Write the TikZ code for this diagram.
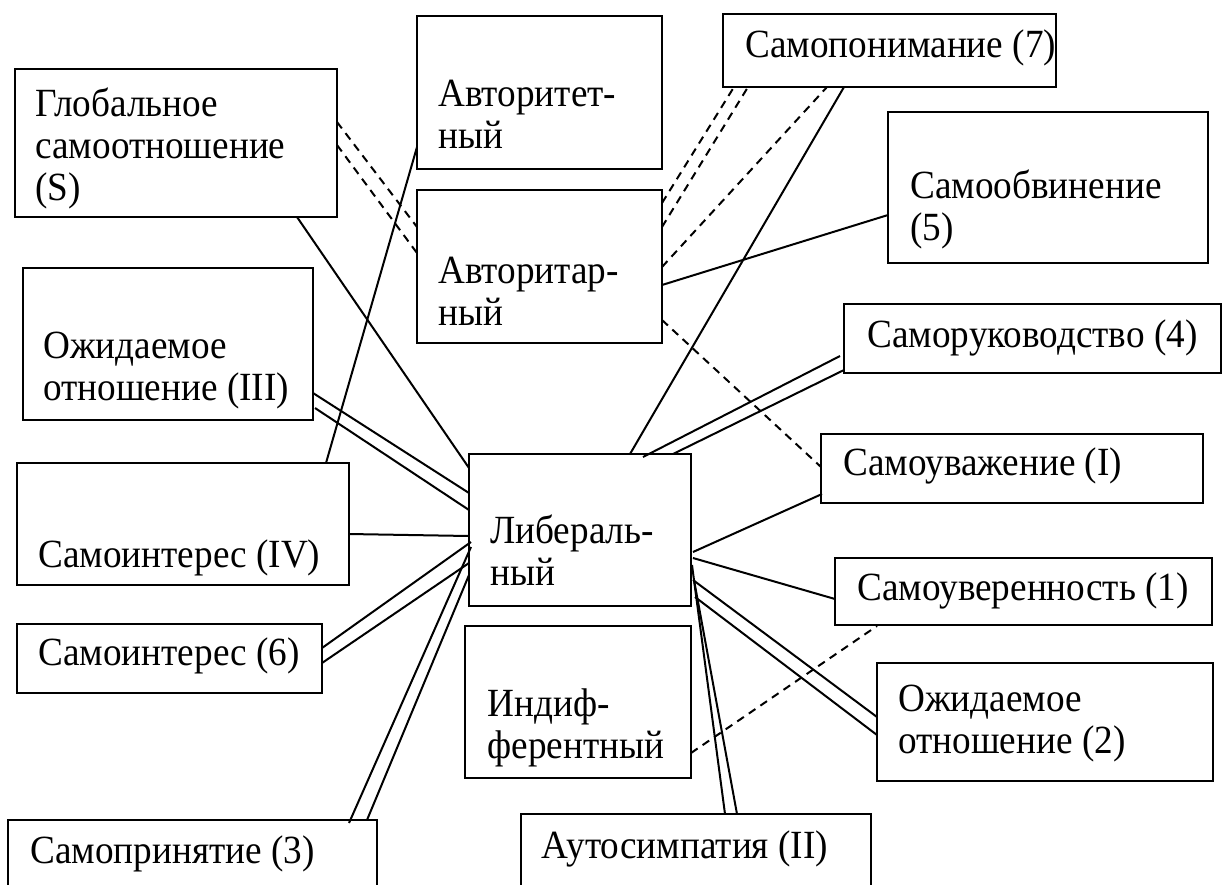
\documentclass[tikz,border=0pt]{standalone}
\usepackage{fontspec}
\setmainfont{Liberation Serif}[FakeStretch=0.93]
\usetikzlibrary{calc}
\tikzset{
    box/.style={draw, rectangle, line width=1pt, inner sep=0pt, outer sep=0pt, anchor=north west},
    txt/.style={anchor=base west, align=left, inner sep=0pt, font=\rmfamily\fontsize{20}{21}\selectfont},
    link/.style={line width=1pt},
    dlink/.style={line width=1pt, dash pattern=on 4pt off 3pt}
}
\begin{document}
\begin{tikzpicture}[x=0.5pt, y=-0.5pt]
    \useasboundingbox (0,0) rectangle (1225,884);
    \clip (0,0) rectangle (1225,884);

    % Рамки
    \node[box, minimum width=161pt, minimum height=74pt] (glob) at (15,69) {};
    \node[box, minimum width=122.5pt, minimum height=76.5pt] (avtet) at (417,16) {};
    \node[box, minimum width=122.5pt, minimum height=76.5pt] (avtar) at (417,190) {};
    \node[box, minimum width=166.5pt, minimum height=36.5pt] (ponim) at (723,14) {};
    \node[box, minimum width=160pt, minimum height=75.5pt] (obvin) at (888,112) {};
    \node[box, minimum width=188.5pt, minimum height=34.5pt] (ruk) at (844,304) {};
    \node[box, minimum width=191pt, minimum height=34.5pt] (uvazh) at (821,434) {};
    \node[box, minimum width=188.5pt, minimum height=33.5pt] (uver) at (835,558) {};
    \node[box, minimum width=168pt, minimum height=59pt] (ozh2) at (877,663) {};
    \node[box, minimum width=145pt, minimum height=76pt] (ozh3) at (23,268) {};
    \node[box, minimum width=166pt, minimum height=61pt] (int4) at (17,463) {};
    \node[box, minimum width=111pt, minimum height=76pt] (lib) at (469,454) {};
    \node[box, minimum width=113pt, minimum height=76pt] (indif) at (465,626) {};
    \node[box, minimum width=152.5pt, minimum height=34.5pt] (int6) at (17,624) {};
    \node[box, minimum width=184.5pt, minimum height=50pt] (prin) at (8,820) {};
    \node[box, minimum width=175pt, minimum height=50pt] (simp) at (521,814) {};

    % Подписи (base = последняя строка)
    \node[txt] (globT) at (35,200) {Глобальное\\самоотношение\\(S)};
    \node[txt] (avtetT) at (438,148) {Авторитет-\\ный};
    \node[txt] (avtarT) at (438,325) {Авторитар-\\ный};
    \node[txt] (ponimT) at (745,57) {Самопонимание (7)};
    \node[txt] (obvinT) at (910,240) {Самообвинение\\(5)};
    \node[txt] (rukT) at (867,347) {Саморуководство (4)};
    \node[txt] (uvazhT) at (843,475) {Самоуважение (I)};
    \node[txt] (uverT) at (857,600) {Самоуверенность (1)};
    \node[txt] (ozh2T) at (898,753) {Ожидаемое\\отношение (2)};
    \node[txt] (ozh3T) at (43,400) {Ожидаемое\\отношение (III)};
    \node[txt] (int4T) at (38,567) {Самоинтерес (IV)};
    \node[txt] (libT) at (490,585) {Либераль-\\ный};
    \node[txt] (indifT) at (487,758) {Индиф-\\ферентный};
    \node[txt] (int6T) at (38,665) {Самоинтерес (6)};
    \node[txt] (prinT) at (30,863) {Самопринятие (3)};
    \node[txt] (simpT) at (541,858) {Аутосимпатия (II)};

    % Связи слева
    \draw[link] ($(glob.south west)+(282,0)$) -- ($(lib.north west)+(0,14)$);
    \draw[dlink] ($(glob.north east)+(0,53)$) -- ($(avtar.north west)+(0,37)$);
    \draw[dlink] ($(glob.north east)+(0,76)$) -- ($(avtar.north west)+(0,63)$);
    \draw[link] ($(avtet.north west)+(0,131)$) -- ($(int4.north west)+(309,0)$);
    \draw[link] ($(ozh3.north east)+(0,125)$) -- ($(lib.north west)+(0,39)$);
    \draw[link] ($(ozh3.north east)+(2,140)$) -- ($(lib.north west)+(0,56)$);
    \draw[link] ($(int4.north east)+(0,71)$) -- ($(lib.north west)+(0,82)$);
    \draw[link] ($(int6.north east)+(0,24)$) -- ($(lib.north west)+(2,88)$);
    \draw[link] ($(int6.north east)+(0,39)$) -- ($(lib.north west)+(0,109)$);
    \draw[link] ($(prin.north west)+(341,3)$) -- ($(lib.north west)+(2,93)$);
    \draw[link] ($(prin.north west)+(359,0)$) -- ($(lib.north west)+(0,121)$);

    % Связи сверху
    \draw[dlink] ($(avtar.north east)+(0,13)$) -- ($(ponim.south west)+(11,0)$);
    \draw[dlink] ($(avtar.north east)+(0,37)$) -- ($(ponim.south west)+(25,0)$);
    \draw[dlink] ($(avtar.north east)+(0,77)$) -- ($(ponim.south west)+(104,0)$);
    \draw[link] ($(ponim.south west)+(121,0)$) -- ($(lib.north west)+(161,0)$);
    \draw[link] ($(avtar.north east)+(0,95)$) -- ($(obvin.north west)+(0,103)$);
    \draw[dlink] ($(avtar.north east)+(0,130)$) -- ($(uvazh.north west)+(0,33)$);

    % Связи справа
    \draw[link] ($(lib.north west)+(174,3)$) -- ($(ruk.north west)+(-4,52)$);
    \draw[link] ($(lib.north west)+(204,0)$) -- ($(ruk.north west)+(0,66)$);
    \draw[link] ($(lib.north east)+(2,98)$) -- ($(uvazh.north west)+(1,60)$);
    \draw[link] ($(lib.north east)+(2,104)$) -- ($(uver.north west)+(0,41)$);
    \draw[link] ($(lib.north east)+(2,126)$) -- ($(ozh2.north west)+(0,54)$);
    \draw[link] ($(lib.north east)+(4,143)$) -- ($(ozh2.north west)+(0,72)$);
    \draw[link] ($(lib.north east)+(1,111)$) -- ($(simp.north west)+(204,0)$);
    \draw[link] ($(lib.north east)+(3,126)$) -- ($(simp.north west)+(216,0)$);
    \draw[dlink] ($(indif.north east)+(0,127)$) -- ($(uver.south west)+(42,1)$);
\end{tikzpicture}
\end{document}
